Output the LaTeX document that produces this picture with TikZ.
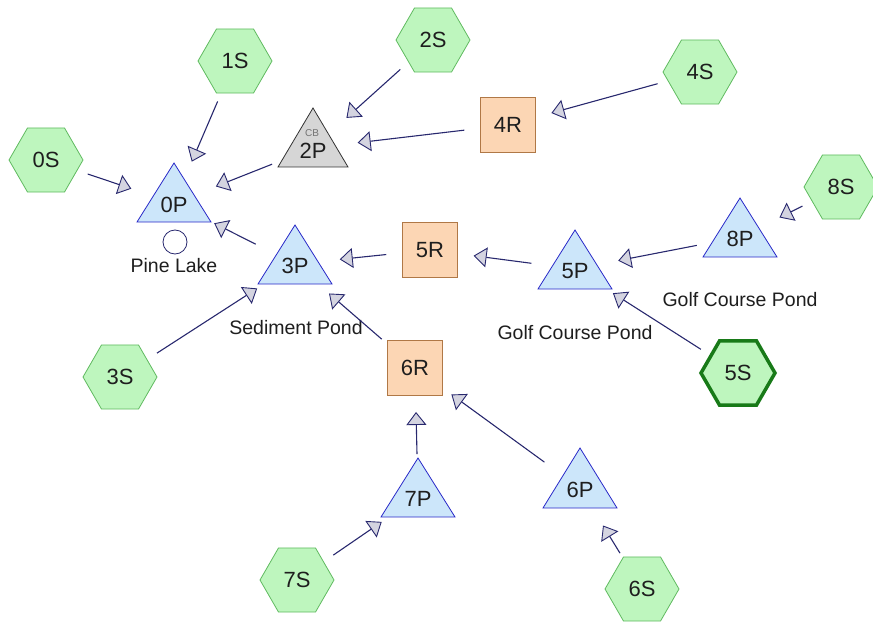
\documentclass[tikz,border=0pt]{standalone}
\usepackage{fontspec}
\setmainfont{Liberation Sans}
\usetikzlibrary{shapes.geometric,arrows.meta,calc}
\definecolor{hexfill}{RGB}{190,246,190}
\definecolor{hexline}{RGB}{96,186,96}
\definecolor{hexbold}{RGB}{24,122,24}
\definecolor{trifill}{RGB}{204,230,250}
\definecolor{triline}{RGB}{40,40,200}
\definecolor{cbfill}{RGB}{214,214,214}
\definecolor{cbline}{RGB}{50,50,50}
\definecolor{resfill}{RGB}{252,214,180}
\definecolor{resline}{RGB}{176,120,70}
\definecolor{edgecol}{RGB}{40,40,110}
\definecolor{headfill}{RGB}{212,212,224}
\definecolor{txt}{RGB}{30,30,30}
\begin{document}
\begin{tikzpicture}[x=1pt,y=-1pt,
  subcat/.style={regular polygon, regular polygon sides=6, minimum size=74pt, inner sep=0pt,
    fill=hexfill, draw=hexline, line width=0.8pt, font=\fontsize{22}{22}\selectfont, text=txt},
  boldcat/.style={subcat, draw=hexbold, line width=3.5pt},
  reach/.style={rectangle, minimum size=55pt, inner sep=0pt, fill=resfill, draw=resline,
    line width=0.8pt, font=\fontsize{22}{22}\selectfont, text=txt},
  pond/.style={fill=trifill, draw=triline, line width=0.8pt},
  cbpond/.style={fill=cbfill, draw=cbline, line width=0.8pt},
  lbl/.style={inner sep=0pt, font=\fontsize{22}{22}\selectfont, text=txt},
  small/.style={inner sep=0pt, font=\fontsize{19.5}{19.5}\selectfont, text=txt},
  edge/.style={draw=edgecol, line width=1.1pt, shorten <=44pt, shorten >=45pt,
    -{Triangle[length=13pt,width=20pt,fill=headfill,line width=0.9pt]}}
]
\useasboundingbox (0,0) rectangle (873,623);

% subcatchments
\node[subcat] (s0) at (46,160) {0S};
\node[subcat] (s1) at (235,61) {1S};
\node[subcat] (s2) at (433,40) {2S};
\node[subcat] (s3) at (120,377) {3S};
\node[subcat] (s4) at (700,72) {4S};
\node[boldcat] (s5) at (738,373) {5S};
\node[subcat] (s6) at (642,589) {6S};
\node[subcat] (s7) at (297,580) {7S};
\node[subcat] (s8) at (841,187) {8S};

% reaches
\node[reach] (r4) at (508,125) {4R};
\node[reach] (r5) at (430,250) {5R};
\node[reach] (r6) at (415,368) {6R};

% ponds
\coordinate (p0) at (174,203);
\coordinate (p2) at (313,148);
\coordinate (p3) at (295,264);
\coordinate (p5) at (575,269);
\coordinate (p6) at (580,488);
\coordinate (p7) at (418,497);
\coordinate (p8) at (740,237);

\path[pond] (p0) ++(-37,19) -- ++(74,0) -- ++(-37,-59) -- cycle;
\path[cbpond] (p2) ++(-35,19) -- ++(70,0) -- ++(-35,-59) -- cycle;
\path[pond] (p3) ++(-37,20) -- ++(74,0) -- ++(-37,-59) -- cycle;
\path[pond] (p5) ++(-37,20) -- ++(74,0) -- ++(-37,-59) -- cycle;
\path[pond] (p6) ++(-37,20) -- ++(74,0) -- ++(-37,-60) -- cycle;
\path[pond] (p7) ++(-37,20) -- ++(74,0) -- ++(-37,-59) -- cycle;
\path[pond] (p8) ++(-37,20) -- ++(74,0) -- ++(-37,-59) -- cycle;

\node[lbl] (t0) at ($(p0)+(0,2)$) {0P};
\node[lbl] (t2) at ($(p2)+(0,3)$) {2P};
\node[inner sep=0pt, font=\fontsize{10}{10}\selectfont, text=black!55] (tcb) at (312,133) {CB};
\node[lbl] (t3) at ($(p3)+(0,2)$) {3P};
\node[lbl] (t5) at ($(p5)+(0,2)$) {5P};
\node[lbl] (t6) at ($(p6)+(0,2)$) {6P};
\node[lbl] (t7) at ($(p7)+(0,2)$) {7P};
\node[lbl] (t8) at ($(p8)+(0,2)$) {8P};

% outfall marker and captions
\node[circle, draw=edgecol, line width=0.8pt, minimum size=24pt, inner sep=0pt] (o0) at (175,242) {};
\node[small] (c0) at (174,266) {Pine Lake};
\node[small] (c3) at (296,328) {Sediment Pond};
\node[small] (c5) at (575,333) {Golf Course Pond};
\node[small] (c8) at (740,300) {Golf Course Pond};

% connectors
\draw[edge] (s0.center) -- (p0);
\draw[edge] (s1.center) -- (p0);
\draw[edge] (p2) -- (p0);
\draw[edge] (p3) -- (p0);
\draw[edge] (s2.center) -- (p2);
\draw[edge] (r4.center) -- (p2);
\draw[edge, shorten <=44pt] (s4.center) -- (r4.center);
\draw[edge] (r5.center) -- (p3);
\draw[edge] (s3.center) -- (p3);
\draw[edge] (r6.center) -- (p3);
\draw[edge, shorten >=44pt] (p5) -- (r5.center);
\draw[edge, shorten >=44pt] (p8) -- (p5);
\draw[edge, shorten <=43pt, shorten >=44pt] (s8.center) -- (p8);
\draw[edge] (s5.center) -- (p5);
\draw[edge, shorten <=43pt, shorten >=44pt] (p7) -- (r6.center);
\draw[edge] (p6) -- (r6.center);
\draw[edge, shorten >=44pt] (s7.center) -- (p7);
\draw[edge, shorten <=42pt, shorten >=44pt] (s6.center) -- (p6);
\end{tikzpicture}
\end{document}
